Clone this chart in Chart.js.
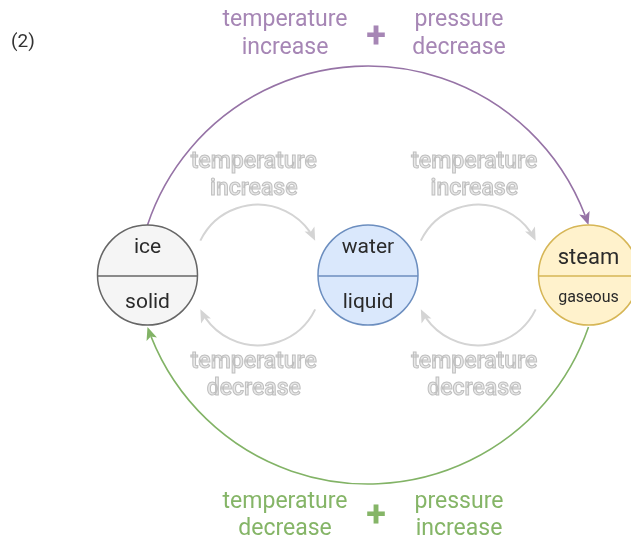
<!DOCTYPE html>
<html>
<head>
<meta charset="utf-8">
<script src="https://cdn.jsdelivr.net/npm/chart.js@4"></script>
<style>
  html, body { margin: 0; padding: 0; background: #fff; }
  #wrap { width: 631px; height: 547px; position: relative; }
</style>
</head>
<body>
<div id="wrap"><canvas id="chart" width="631" height="547"></canvas></div>
<script>
// states of water (nodes)
const stateNames = ['ice', 'water', 'steam'];
const phaseNames = ['solid', 'liquid', 'gaseous'];
const stateIndex = [0, 1, 2];

// transitions between states
const arcFrom = [0, 1, 1, 2, 0, 2];
const arcTo = [1, 0, 2, 1, 2, 0];
const arcKind = ['smallTop', 'smallBottom', 'smallTop', 'smallBottom', 'bigTop', 'bigBottom'];
const arcTemp = ['increase', 'decrease', 'increase', 'decrease', 'increase', 'decrease'];
const arcPressure = [null, null, null, null, 'decrease', 'increase'];

// styles
const nodeFill = ['#f5f5f5', '#dae8fc', '#fff2cc'];
const nodeStroke = ['#666666', '#6c8ebf', '#d6b656'];
const nodeTextTop = [-27, -27, -17];
const nodeTextBottom = [28, 28, 23];
const nodeTopFont = ['21px Roboto', '21px Roboto', '22px Roboto'];
const nodeBottomFont = ['21px Roboto', '21px Roboto', '16px Roboto'];

const kindStyle = {
  smallTop:    { a1: -33, a2: -147, rad: 63, sag: 36, color: '#d4d4d4', width: 2, labelY: [-113, -86], labelDx: -4 },
  smallBottom: { a1: 147, a2: 33, rad: 63, sag: 36, color: '#d4d4d4', width: 2, labelY: [87, 114], labelDx: -4 },
  bigTop:      { a1: -90, a2: -90, rad: 50, sag: 159, color: '#9673a6', text: '#a686b5', width: 1.6, labelY: [-255, -227], plusY: -237 },
  bigBottom:   { a1: 90, a2: 90, rad: 52, sag: 157, color: '#82b366', text: '#85b567', width: 1.6, labelY: [227, 254], plusY: 242 }
};

const rad = d => d * Math.PI / 180;

function nodePx(chart, i) {
  const xs = chart.scales.x, ys = chart.scales.y;
  return { x: xs.getPixelForValue(stateIndex[i]), y: ys.getPixelForValue(0) };
}

function drawArrow(ctx, x, y, dx, dy, color) {
  const len = 13, half = 5.5;
  const bx = x - dx * len, by = y - dy * len;
  ctx.fillStyle = color;
  ctx.beginPath();
  ctx.moveTo(x, y);
  ctx.lineTo(bx - dy * half, by + dx * half);
  ctx.lineTo(x - dx * (len - 3), y - dy * (len - 3));
  ctx.lineTo(bx + dy * half, by - dx * half);
  ctx.closePath();
  ctx.fill();
}

const diagramPlugin = {
  id: 'diagram',
  beforeDatasetsDraw(chart) {
    const ctx = chart.ctx;
    ctx.save();
    arcFrom.forEach((f, k) => {
      const st = kindStyle[arcKind[k]];
      const A = nodePx(chart, f), B = nodePx(chart, arcTo[k]);
      const p1 = { x: A.x + st.rad * Math.cos(rad(st.a1)), y: A.y + st.rad * Math.sin(rad(st.a1)) };
      const p2 = { x: B.x + st.rad * Math.cos(rad(st.a2)), y: B.y + st.rad * Math.sin(rad(st.a2)) };
      const dx = p2.x - p1.x, dy = p2.y - p1.y;
      const c = Math.hypot(dx, dy), h = c / 2;
      const nx = dy / c, ny = -dx / c; // left normal (bulge side)
      const r = (h * h + st.sag * st.sag) / (2 * st.sag);
      const mx = (p1.x + p2.x) / 2, my = (p1.y + p2.y) / 2;
      const cx = mx - nx * (r - st.sag), cy = my - ny * (r - st.sag);
      const t1 = Math.atan2(p1.y - cy, p1.x - cx);
      const t2 = Math.atan2(p2.y - cy, p2.x - cx);
      const back = 10 / r;
      ctx.strokeStyle = st.color;
      ctx.lineWidth = st.width;
      ctx.beginPath();
      ctx.arc(cx, cy, r, t1, t2 - back, false);
      ctx.stroke();
      drawArrow(ctx, p2.x, p2.y, -Math.sin(t2), Math.cos(t2), st.color);

      // labels
      const midX = (A.x + B.x) / 2;
      ctx.textAlign = 'center';
      ctx.textBaseline = 'middle';
      if (!arcPressure[k]) {
        ctx.font = '500 23px Roboto';
        ctx.fillStyle = '#e8e8e8';
        ctx.strokeStyle = '#bfbfbf';
        ctx.lineWidth = 1;
        ['temperature', arcTemp[k]].forEach((t, j) => {
          const y = A.y + st.labelY[j];
          ctx.fillText(t, midX + st.labelDx, y);
          ctx.strokeText(t, midX + st.labelDx, y);
        });
      } else {
        ctx.font = '23px Roboto';
        ctx.fillStyle = st.text;
        ['temperature', arcTemp[k]].forEach((t, j) => ctx.fillText(t, midX - 83, A.y + st.labelY[j]));
        ['pressure', arcPressure[k]].forEach((t, j) => ctx.fillText(t, midX + 91, A.y + st.labelY[j]));
        ctx.font = 'bold 36px Roboto';
        ctx.fillText('+', midX + 8, A.y + st.plusY);
      }
    });
    ctx.restore();
  },
  afterDatasetsDraw(chart) {
    const ctx = chart.ctx;
    ctx.save();
    ctx.textAlign = 'center';
    ctx.textBaseline = 'middle';
    stateNames.forEach((name, i) => {
      const p = nodePx(chart, i);
      ctx.strokeStyle = nodeStroke[i];
      ctx.lineWidth = 1.5;
      ctx.beginPath();
      ctx.moveTo(p.x - 50, p.y + 1);
      ctx.lineTo(p.x + 50, p.y + 1);
      ctx.stroke();
      ctx.fillStyle = '#2a2a2a';
      ctx.font = nodeTopFont[i];
      ctx.fillText(name, p.x, p.y + nodeTextTop[i]);
      ctx.font = nodeBottomFont[i];
      ctx.fillText(phaseNames[i], p.x, p.y + nodeTextBottom[i]);
    });
    ctx.fillStyle = '#333';
    ctx.font = '19px Roboto';
    ctx.textAlign = 'left';
    ctx.fillText('(2)', 11, 42);
    ctx.restore();
  }
};

new Chart(document.getElementById('chart'), {
  type: 'scatter',
  data: {
    datasets: [{
      data: stateIndex.map(i => ({ x: i, y: 0 })),
      pointRadius: 50,
      pointHoverRadius: 50,
      backgroundColor: nodeFill,
      borderColor: nodeStroke,
      borderWidth: 1.5,
      clip: false
    }]
  },
  options: {
    responsive: false,
    animation: false,
    events: [],
    layout: { padding: 0, autoPadding: false },
    plugins: { legend: { display: false }, tooltip: { enabled: false } },
    scales: {
      x: { type: 'linear', display: false, min: -147.5 / 220.5, max: (631 - 147.5) / 220.5 },
      y: { type: 'linear', display: false, min: -272, max: 275 }
    }
  },
  plugins: [diagramPlugin]
});
</script>
</body>
</html>
